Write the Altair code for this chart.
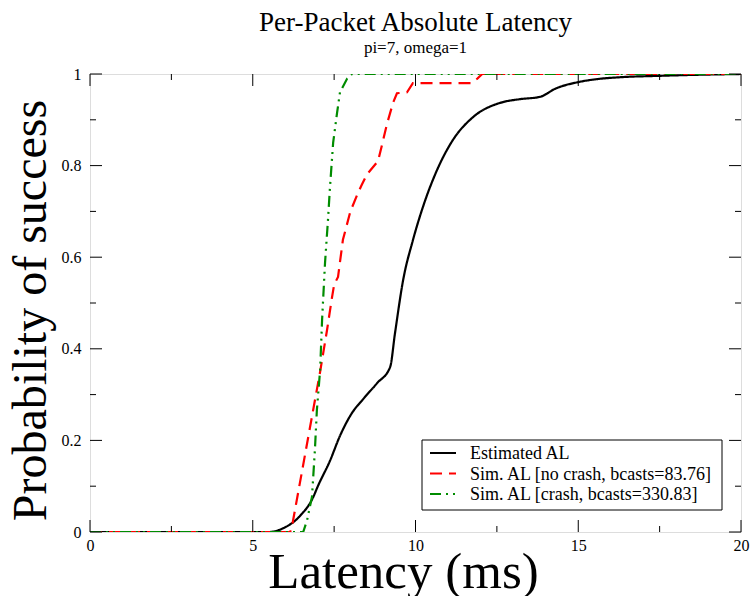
import altair as alt
import pandas as pd

# ---- data ----
est_x = [0, 5.5, 5.93, 6.45, 6.85, 7.0, 7.37, 7.68, 8.05, 8.39, 8.82, 9.22, 9.37, 9.62, 9.92, 10.23,
         10.66, 11.15, 11.77, 12.6, 13.2, 13.82, 14.3, 15.05, 15.6, 16.3, 17.5, 18.5, 20]
est_y = [0, 0, 0.008, 0.035, 0.075, 0.1, 0.155, 0.21, 0.26, 0.29, 0.325, 0.36, 0.434, 0.55, 0.637, 0.71,
         0.79, 0.856, 0.906, 0.937, 0.945, 0.95, 0.968, 0.983, 0.989, 0.993, 0.996, 0.998, 1.0]

nocrash_x = [0, 6.15, 6.2, 7.07, 7.28, 7.43, 7.5, 7.62, 7.77, 8.0, 8.23, 8.35, 8.5, 8.85, 8.97,
             9.12, 9.31, 9.43, 9.74, 9.92, 10.0, 11.7, 11.9, 12.05, 20]
nocrash_y = [0, 0, 0.01, 0.35, 0.44, 0.51, 0.54, 0.557, 0.638, 0.70, 0.74, 0.758, 0.78, 0.81, 0.845,
             0.89, 0.937, 0.958, 0.96, 0.98, 0.98, 0.98, 0.99, 1.0, 1.0]

crash_x = [0, 6.55, 6.67, 6.82, 6.91, 6.97, 7.07, 7.13, 7.22, 7.31, 7.37, 7.47, 7.59, 7.68, 7.9, 8.05, 20]
crash_y = [0, 0, 0.026, 0.077, 0.18, 0.266, 0.354, 0.463, 0.587, 0.68, 0.75, 0.85, 0.915, 0.96, 0.99, 1.0, 1.0]

series_names = ["Estimated AL", "Sim. AL [no crash, bcasts=83.76]", "Sim. AL [crash, bcasts=330.83]"]
series_colors = ["#000000", "#ff0000", "#008c00"]
series_dash = [[1, 0], [12, 7], [11, 5, 2, 5, 2, 5]]
series_interp = ["monotone", "linear", "linear"]

x_major = [0, 5, 10, 15, 20]
x_minor = [2.5, 7.5, 12.5, 17.5]
y_major = [0, 0.2, 0.4, 0.6, 0.8, 1.0]
y_minor = [0.1, 0.3, 0.5, 0.7, 0.9]

W, H = 651, 458
FONT = "Liberation Serif"

xs = alt.Scale(domain=[0, 20], nice=False, zero=False)
ys = alt.Scale(domain=[0, 1], nice=False, zero=False)

xaxis = alt.Axis(title="Latency (ms)", values=x_major, format="d", grid=False, ticks=False, domain=False,
                 labelFont=FONT, labelFontSize=16, labelColor="black", labelPadding=5, labelFlush=False,
                 titleFont=FONT, titleFontSize=51, titleFontWeight="normal", titleColor="black",
                 titleX=313, titleY=55, titleBaseline="alphabetic", titleAlign="center")
yaxis = alt.Axis(title="Probability of success", values=y_major, format="~g", grid=False, ticks=False,
                 domain=False, labelFont=FONT, labelFontSize=16, labelColor="black", labelPadding=9,
                 labelFlush=False,
                 titleFont=FONT, titleFontSize=48, titleFontWeight="normal", titleColor="black",
                 titleAngle=270, titleX=-45, titleY=236, titleBaseline="alphabetic", titleAlign="center")

def X(field="x"):
    return alt.X(f"{field}:Q", scale=xs, axis=xaxis)

def Y(field="y"):
    return alt.Y(f"{field}:Q", scale=ys, axis=yaxis)

datasets = [(est_x, est_y), (nocrash_x, nocrash_y), (crash_x, crash_y)]
layers = []
for i, (sx, sy) in enumerate(datasets):
    df = pd.DataFrame({"x": sx, "y": sy, "o": list(range(len(sx)))})
    layers.append(
        alt.Chart(df).mark_line(color=series_colors[i], strokeWidth=2.2, strokeDash=series_dash[i],
                                interpolate=series_interp[i], clip=True)
        .encode(x=X(), y=Y(), order="o:Q")
    )

# inward ticks on all four sides
def vticks(vals, length, bottom):
    df = pd.DataFrame({"x": vals})
    if bottom:
        return alt.Chart(df).mark_rule(color="black", strokeWidth=1).encode(
            x=X(), y=alt.value(H), y2=alt.value(H - length))
    return alt.Chart(df).mark_rule(color="black", strokeWidth=1).encode(
        x=X(), y=alt.value(0), y2=alt.value(length))

def hticks(vals, length, left):
    df = pd.DataFrame({"y": vals})
    if left:
        return alt.Chart(df).mark_rule(color="black", strokeWidth=1).encode(
            y=Y(), x=alt.value(0), x2=alt.value(length))
    return alt.Chart(df).mark_rule(color="black", strokeWidth=1).encode(
        y=Y(), x=alt.value(W), x2=alt.value(W - length))

tick_layers = [
    vticks(x_major, 12, True), vticks(x_minor, 6, True),
    vticks(x_major, 12, False), vticks(x_minor, 6, False),
    hticks(y_major, 12, True), hticks(y_minor, 6, True),
    hticks(y_major, 12, False), hticks(y_minor, 6, False),
]

# legend box
one = pd.DataFrame({"a": [0]})
leg_left, leg_right, leg_top, leg_bottom = 332, 632, 366, 436
legend_layers = [
    alt.Chart(one).mark_rect(fill="white", stroke="black", strokeWidth=1).encode(
        x=alt.value(leg_left), x2=alt.value(leg_right), y=alt.value(leg_top), y2=alt.value(leg_bottom))
]
row_y = [379, 399.5, 420]
for i, name in enumerate(series_names):
    legend_layers.append(
        alt.Chart(one).mark_rule(color=series_colors[i], strokeWidth=2.2, strokeDash=series_dash[i]).encode(
            x=alt.value(340), x2=alt.value(366), y=alt.value(row_y[i]))
    )
    legend_layers.append(
        alt.Chart(one).mark_text(text=name, font=FONT, fontSize=18, align="left", baseline="middle",
                                 color="black").encode(x=alt.value(380), y=alt.value(row_y[i] + 1))
    )

chart = alt.layer(*layers, *tick_layers, *legend_layers).properties(
    width=W, height=H,
    padding={"left": 90, "top": 74, "right": 12, "bottom": 64},
    autosize=alt.AutoSizeParams(type="none"),
    title=alt.TitleParams(text="Per-Packet Absolute Latency", subtitle="pi=7, omega=1",
                          font=FONT, fontSize=27, fontWeight="normal", color="black",
                          subtitleFont=FONT, subtitleFontSize=17, subtitleColor="black",
                          anchor="middle", offset=9, subtitlePadding=3),
).configure_view(stroke="black", strokeWidth=2).configure(background="white")

chart.save("out.html", embed_options={"renderer": "svg", "actions": False})
